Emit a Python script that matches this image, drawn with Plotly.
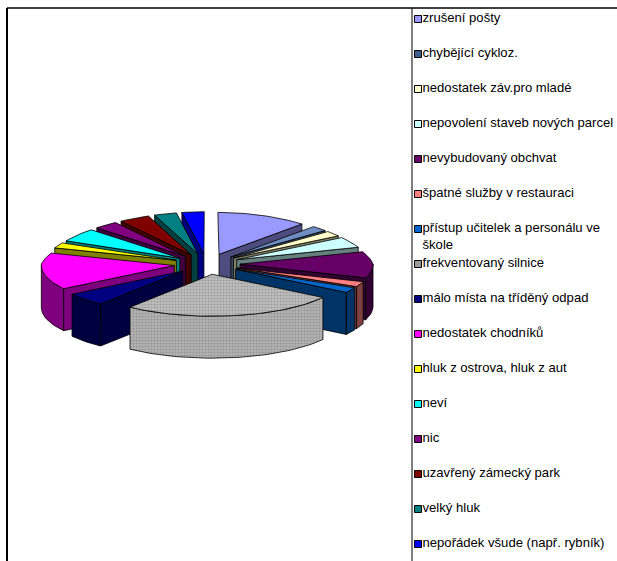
import numpy as np
import plotly.graph_objects as go

# ---------------- data ----------------
categories = [
    "zrušení pošty",
    "chybějící cykloz.",
    "nedostatek záv.pro mladé",
    "nepovolení staveb nových parcel",
    "nevybudovaný obchvat",
    "špatné služby v restauraci",
    "přístup učitelek a personálu ve<br>škole",
    "frekventovaný silnice",
    "málo místa na tříděný odpad",
    "nedostatek chodníků",
    "hluk z ostrova, hluk z aut",
    "neví",
    "nic",
    "uzavřený zámecký park",
    "velký hluk",
    "nepořádek všude (např. rybník)",
]
values = [12, 2, 2, 4, 10, 2, 2, 26, 5, 14, 2, 5, 3, 4, 3, 3]
colors = ["#9999FF", "#6F8FC4", "#FFFFCC", "#CCFFFF", "#660066", "#FF8080",
          "#0066CC", "#C0C0C0", "#000080", "#FF00FF", "#FFFF00", "#00FFFF",
          "#800080", "#800000", "#008080", "#0000FF"]
legend_colors = ["#9999FF", "#3F5F8F", "#FFFFCC", "#CCFFFF", "#660066", "#FF8080",
                 "#0066CC", "#9A9A9A", "#000080", "#FF00FF", "#FFFF00", "#00FFFF",
                 "#800080", "#800000", "#008080", "#0000FF"]
textured = [False, False, False, False, False, False, False, True,
            False, False, False, False, False, False, False, False]

# ---------------- geometry of the 3D pie (window pixel units) ----------------
CX, CY = 207.0, 264.0      # centre of the top surface
R = 133.0                  # radius
K = 0.315                  # vertical squash (tilt)
E = 33.0                   # explosion distance
H = 42.0                   # thickness
PC = 0.0022                # perspective shrink of the back

W, HH = 617, 561


def pt(X, Z):
    y = CY - K * Z
    s = 1.0 - PC * max(0.0, CY - y)
    return CX + X * s, y


def shade(hexcol, f=0.5):
    h = hexcol.lstrip("#")
    r, g, b = (int(h[i:i + 2], 16) for i in (0, 2, 4))
    return "#%02X%02X%02X" % (int(r * f), int(g * f), int(b * f))


total = float(sum(values))
bounds = np.concatenate([[0.0], np.cumsum(values) / total * 360.0])

fig = go.Figure()
EDGE = dict(color="black", width=0.8)

slices = []
for i in range(len(values)):
    t0, t1 = bounds[i], bounds[i + 1]
    m = np.radians((t0 + t1) / 2)
    ex, ez = E * np.sin(m), E * np.cos(m)
    depth = pt(ex + 0.5 * R * np.sin(m), ez + 0.5 * R * np.cos(m))[1]
    slices.append((depth, i, t0, t1, ex, ez))
slices.sort()


def poly(xs, ys, fill, side=False, tex=False):
    kw = dict(x=xs, y=ys, mode="lines", fill="toself", fillcolor=fill,
              line=EDGE, hoverinfo="skip", showlegend=False)
    if tex:
        kw["fillpattern"] = dict(shape=".", bgcolor="#B4B4B4" if side else "#C0C0C0",
                                 fgcolor="#747474", size=3, solidity=0.4)
    fig.add_trace(go.Scatter(**kw))


for depth, i, t0, t1, ex, ez in slices:
    top = colors[i]
    side = shade(top) if not textured[i] else "#B4B4B4"
    tex = textured[i]
    ax, ay = pt(ex, ez)

    def rim(t):
        r_ = np.radians(t)
        return pt(ex + R * np.sin(r_), ez + R * np.cos(r_))

    # radial walls
    if np.sin(np.radians(t0)) < -1e-9:
        rx, ry = rim(t0)
        poly([ax, rx, rx, ax, ax], [ay, ry, ry + H, ay + H, ay], side, True, tex)
    if np.sin(np.radians(t1)) > 1e-9:
        rx, ry = rim(t1)
        poly([ax, rx, rx, ax, ax], [ay, ry, ry + H, ay + H, ay], side, True, tex)
    # outer curved wall (front half only)
    a0, a1 = max(t0, 90.0), min(t1, 270.0)
    if a1 > a0:
        ts = np.linspace(a0, a1, max(3, int((a1 - a0) / 2) + 2))
        pts = [rim(t) for t in ts]
        xs = [p[0] for p in pts] + [p[0] for p in pts[::-1]]
        ys = [p[1] for p in pts] + [p[1] + H for p in pts[::-1]]
        poly(xs + [xs[0]], ys + [ys[0]], side, True, tex)
    # top face
    ts = np.linspace(t0, t1, max(3, int((t1 - t0) / 2) + 2))
    pts = [rim(t) for t in ts]
    xs = [ax] + [p[0] for p in pts] + [ax]
    ys = [ay] + [p[1] for p in pts] + [ay]
    poly(xs, ys, top, False, tex)

# ---------------- legend (drawn as marks) ----------------
LX, LY0, LSTEP, LH = 418.0, 19.0, 35.0, 16.9
ly = [LY0 + LSTEP * i for i in range(len(categories))]
fig.add_trace(go.Scatter(
    x=[LX] * len(categories), y=ly, mode="markers",
    marker=dict(symbol="square", size=7, color=legend_colors,
                line=dict(color="black", width=1)),
    hoverinfo="skip", showlegend=False))
fig.add_trace(go.Scatter(
    x=[LX + 4.5] * len(categories),
    y=[y + (c.count("<br>")) * LH / 2 for y, c in zip(ly, categories)],
    mode="text", text=categories, textposition="middle right",
    textfont=dict(family="Liberation Sans, Arial, sans-serif", size=13.1, color="black"),
    hoverinfo="skip", showlegend=False, cliponaxis=False))

# ---------------- frame ----------------
fig.add_shape(type="line", x0=7, x1=W, y0=8, y1=8, line=dict(color="black", width=1.5))
fig.add_shape(type="line", x0=7, x1=7, y0=8, y1=HH, line=dict(color="black", width=2))
fig.add_shape(type="line", x0=412, x1=412, y0=8, y1=HH, line=dict(color="black", width=1))

fig.update_layout(
    width=W, height=HH,
    margin=dict(l=0, r=0, t=0, b=0),
    paper_bgcolor="white", plot_bgcolor="white",
    xaxis=dict(range=[0, W], visible=False, fixedrange=True),
    yaxis=dict(range=[HH, 0], visible=False, fixedrange=True),
    showlegend=False,
)
fig.write_html(
    "out.html",
    config={"displayModeBar": False, "staticPlot": True},
    post_script=("document.documentElement.style.overflow='hidden';"
                 "document.body.style.margin='0';"
                 "document.body.style.overflow='hidden';"),
)
